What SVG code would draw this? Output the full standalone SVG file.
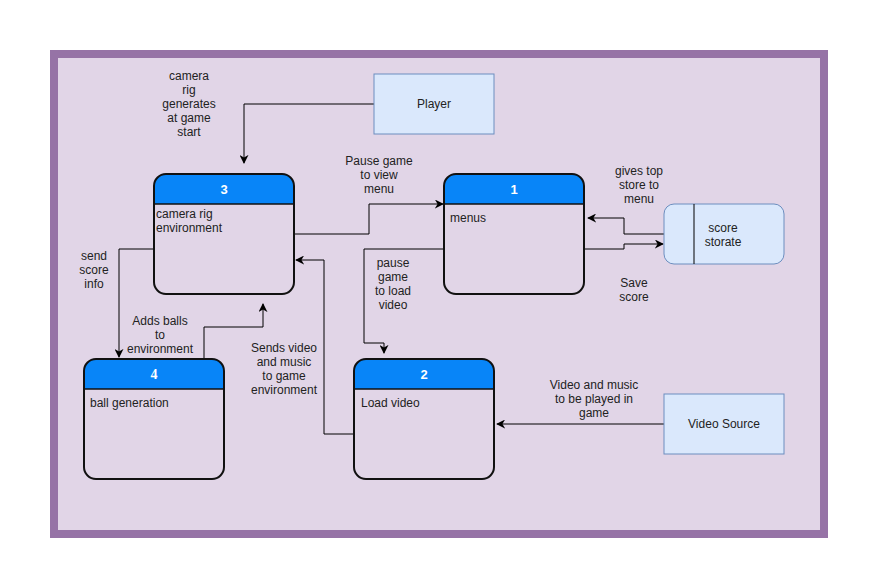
<svg xmlns="http://www.w3.org/2000/svg" width="878" height="588" viewBox="0 0 878 588">
  <style>
    text { font-family: "Liberation Sans", Arial, sans-serif; font-size: 12px; fill: #222; }
    .c { text-anchor: middle; }
    .num { fill: #fff; font-weight: bold; font-size: 13px; text-anchor: middle; }
    .proc { fill: none; stroke: #111; stroke-width: 2; }
    .head { fill: #0885f8; }
    .ext { fill: #dae8fc; stroke: #6c8ebf; stroke-width: 1; }
    .edge { fill: none; stroke: #000; stroke-width: 1; marker-end: url(#arr); }
  </style>
  <defs>
    <marker id="arr" viewBox="0 0 10 10" refX="9" refY="5" markerWidth="9" markerHeight="9" markerUnits="userSpaceOnUse" orient="auto">
      <path d="M0,0 L10,5 L0,10 L3,5 z" fill="#000"/>
    </marker>
  </defs>

  <rect x="54" y="54" width="770" height="480" fill="#e1d5e7" stroke="#9673a6" stroke-width="8"/>

  <!-- connectors -->
  <g id="connectors">
    <path class="edge" d="M374,104 H244 V163"/>
    <path class="edge" d="M294,234 H369 V204 H443"/>
    <path class="edge" d="M444,249 H364 V343 H384 V353"/>
    <path class="edge" d="M354,434 H324 V260 H296"/>
    <path class="edge" d="M154,249 H119 V357"/>
    <path class="edge" d="M204,359 V327 H263 V304"/>
    <path class="edge" d="M664,234 H624 V218 H588"/>
    <path class="edge" d="M584,249 H624 V244 H663"/>
    <path class="edge" d="M664,424 H497"/>
  </g>

  <!-- edge labels -->
  <g id="labels">
    <text class="c" x="189" y="80">camera</text>
    <text class="c" x="189" y="94">rig</text>
    <text class="c" x="189" y="108">generates</text>
    <text class="c" x="189" y="122">at game</text>
    <text class="c" x="189" y="136">start</text>

    <text class="c" x="379" y="165">Pause game</text>
    <text class="c" x="379" y="179">to view</text>
    <text class="c" x="379" y="193">menu</text>

    <text class="c" x="393" y="267">pause</text>
    <text class="c" x="393" y="281">game</text>
    <text class="c" x="393" y="295">to load</text>
    <text class="c" x="393" y="309">video</text>

    <text class="c" x="639" y="175">gives top</text>
    <text class="c" x="639" y="189">store to</text>
    <text class="c" x="639" y="203">menu</text>

    <text class="c" x="634" y="287">Save</text>
    <text class="c" x="634" y="301">score</text>

    <text class="c" x="94" y="260">send</text>
    <text class="c" x="94" y="274">score</text>
    <text class="c" x="94" y="288">info</text>

    <text class="c" x="160" y="325">Adds balls</text>
    <text class="c" x="160" y="339">to</text>
    <text class="c" x="160" y="353">environment</text>

    <text class="c" x="284" y="352">Sends video</text>
    <text class="c" x="284" y="366">and music</text>
    <text class="c" x="284" y="380">to game</text>
    <text class="c" x="284" y="394">environment</text>

    <text class="c" x="594" y="389">Video and music</text>
    <text class="c" x="594" y="403">to be played in</text>
    <text class="c" x="594" y="417">game</text>
  </g>

  <!-- external entities -->
  <g id="player">
    <rect class="ext" x="374" y="74" width="120" height="60"/>
    <text class="c" x="434" y="108">Player</text>
  </g>
  <g id="video-source">
    <rect class="ext" x="664" y="394" width="120" height="60"/>
    <text class="c" x="724" y="428">Video Source</text>
  </g>
  <g id="score-storage">
    <rect class="ext" x="664" y="204" width="120" height="60" rx="10"/>
    <line x1="694" y1="204" x2="694" y2="264" stroke="#000" stroke-width="1"/>
    <text class="c" x="723" y="232">score</text>
    <text class="c" x="723" y="246">storate</text>
  </g>

  <!-- processes -->
  <g id="proc-3">
    <path class="head" d="M154,204 V186 a12,12 0 0 1 12,-12 H282 a12,12 0 0 1 12,12 V204 Z"/>
    <rect class="proc" x="154" y="174" width="140" height="120" rx="12"/>
    <line x1="154" y1="204" x2="294" y2="204" stroke="#111" stroke-width="1.5"/>
    <text class="num" x="224" y="194">3</text>
    <text x="156" y="218">camera rig</text>
    <text x="156" y="232">environment</text>
  </g>
  <g id="proc-1">
    <path class="head" d="M444,204 V186 a12,12 0 0 1 12,-12 H572 a12,12 0 0 1 12,12 V204 Z"/>
    <rect class="proc" x="444" y="174" width="140" height="120" rx="12"/>
    <line x1="444" y1="204" x2="584" y2="204" stroke="#111" stroke-width="1.5"/>
    <text class="num" x="514" y="194">1</text>
    <text x="450" y="222">menus</text>
  </g>
  <g id="proc-4">
    <path class="head" d="M84,389 V371 a12,12 0 0 1 12,-12 H212 a12,12 0 0 1 12,12 V389 Z"/>
    <rect class="proc" x="84" y="359" width="140" height="120" rx="12"/>
    <line x1="84" y1="389" x2="224" y2="389" stroke="#111" stroke-width="1.5"/>
    <text class="num" x="154" y="379" style="font-family:'Liberation Serif', serif;font-size:14px">4</text>
    <text x="90" y="407">ball generation</text>
  </g>
  <g id="proc-2">
    <path class="head" d="M354,389 V371 a12,12 0 0 1 12,-12 H482 a12,12 0 0 1 12,12 V389 Z"/>
    <rect class="proc" x="354" y="359" width="140" height="120" rx="12"/>
    <line x1="354" y1="389" x2="494" y2="389" stroke="#111" stroke-width="1.5"/>
    <text class="num" x="424" y="379">2</text>
    <text x="361" y="407">Load video</text>
  </g>
</svg>
